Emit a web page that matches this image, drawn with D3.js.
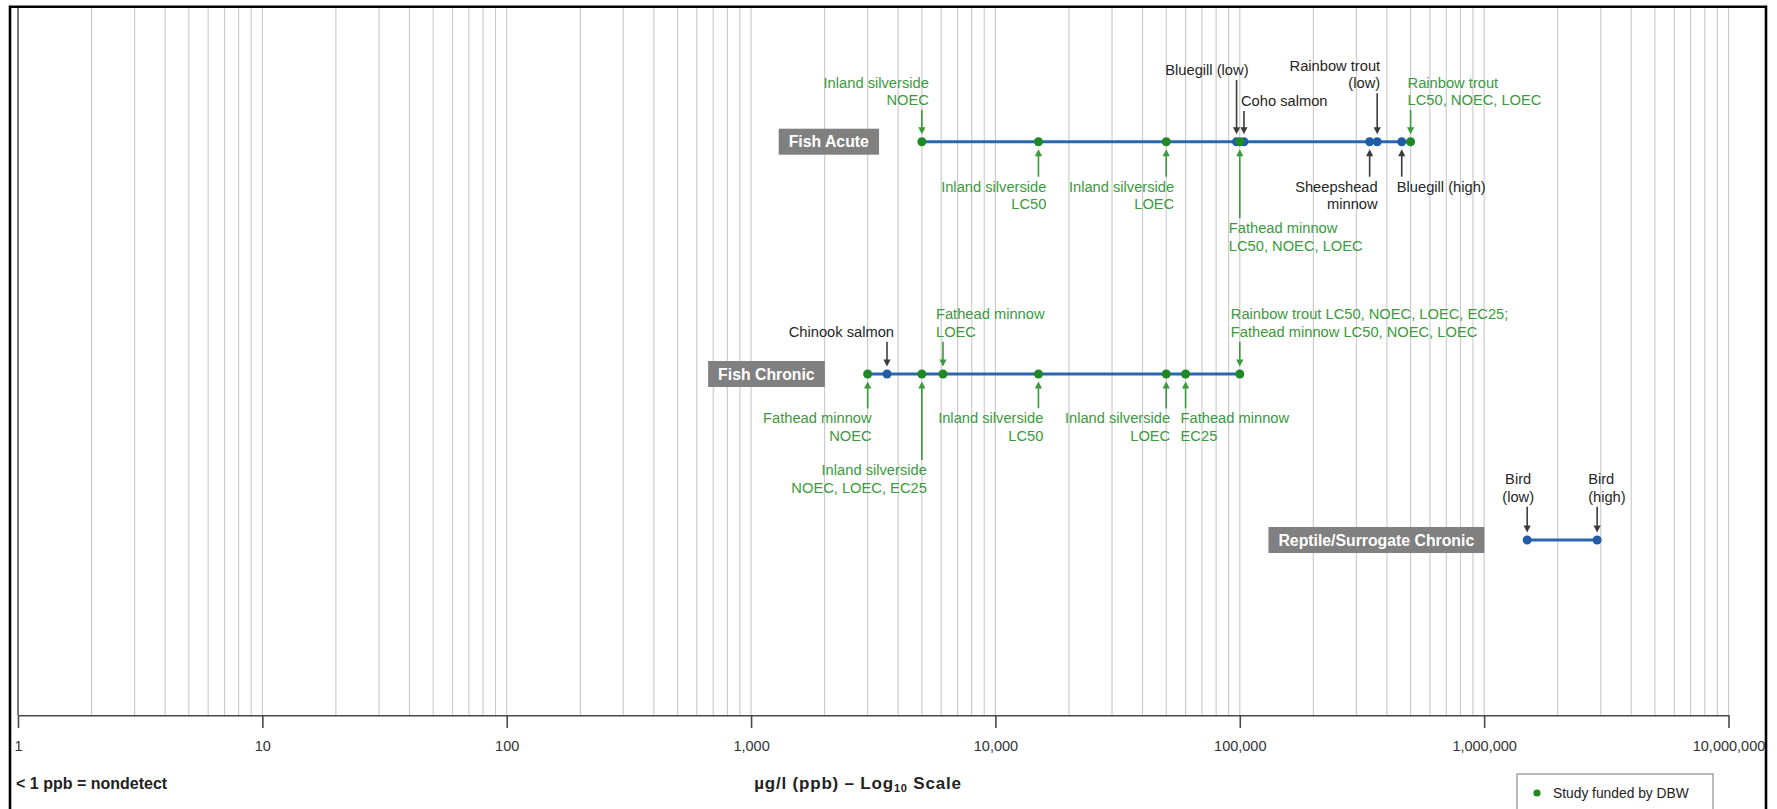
<!DOCTYPE html>
<html><head><meta charset="utf-8">
<script src="https://cdn.jsdelivr.net/npm/d3@7"></script>
<style>
html,body{margin:0;padding:0;background:#fff;}
svg{display:block;font-family:"Liberation Sans",Arial,sans-serif;}
</style></head>
<body><svg id="chart" width="1777" height="809"></svg>
<script>
// ---------- DATA ----------
const rowNames = ["Fish Acute", "Fish Chronic", "Reptile/Surrogate Chronic"];
const tickValues = [1, 10, 100, 1000, 10000, 100000, 1000000, 10000000];

const fishAcuteValues = [5000, 15000, 50000, 97000, 104000, 340000, 365000, 460000, 100000, 500000];
const fishAcuteFunded = [true, true, true, false, false, false, false, false, true, true];

const fishChronicValues = [3600, 3000, 5000, 6100, 15000, 50000, 60000, 100000];
const fishChronicFunded = [false, true, true, true, true, true, true, true];

const reptileValues = [1500000, 2900000];
const reptileFunded = [false, false];

const fishAcuteNotes = [
  {v: 5000,   lines: ["Inland silverside", "NOEC"], dbw: true},
  {v: 15000,  lines: ["Inland silverside", "LC50"], dbw: true},
  {v: 50000,  lines: ["Inland silverside", "LOEC"], dbw: true},
  {v: 97000,  lines: ["Bluegill (low)"], dbw: false},
  {v: 104000, lines: ["Coho salmon"], dbw: false},
  {v: 100000, lines: ["Fathead minnow", "LC50, NOEC, LOEC"], dbw: true},
  {v: 340000, lines: ["Sheepshead", "minnow"], dbw: false},
  {v: 365000, lines: ["Rainbow trout", "(low)"], dbw: false},
  {v: 460000, lines: ["Bluegill (high)"], dbw: false},
  {v: 500000, lines: ["Rainbow trout", "LC50, NOEC, LOEC"], dbw: true}
];
const fishChronicNotes = [
  {v: 3000,   lines: ["Fathead minnow", "NOEC"], dbw: true},
  {v: 3600,   lines: ["Chinook salmon"], dbw: false},
  {v: 5000,   lines: ["Inland silverside", "NOEC, LOEC, EC25"], dbw: true},
  {v: 6100,   lines: ["Fathead minnow", "LOEC"], dbw: true},
  {v: 15000,  lines: ["Inland silverside", "LC50"], dbw: true},
  {v: 50000,  lines: ["Inland silverside", "LOEC"], dbw: true},
  {v: 60000,  lines: ["Fathead minnow", "EC25"], dbw: true},
  {v: 100000, lines: ["Rainbow trout LC50, NOEC, LOEC, EC25;", "Fathead minnow LC50, NOEC, LOEC"], dbw: true}
];
const reptileNotes = [
  {v: 1500000, lines: ["Bird", "(low)"], dbw: false},
  {v: 2900000, lines: ["Bird", "(high)"], dbw: false}
];
const legendLabel = "Study funded by DBW";

// ---------- LAYOUT (positions / styles) ----------
const fishAcuteLayout = [
  {side:"above", anchor:"end",   dx: 7,  gap: 41.7},
  {side:"below", anchor:"end",   dx: 8,  gap: 45},
  {side:"below", anchor:"end",   dx: 8,  gap: 45},
  {side:"above", anchor:"end",   dx: 12, gap: 71.7},
  {side:"above", anchor:"start", dx: -3, gap: 40.7},
  {side:"below", anchor:"start", dx: -11, gap: 86.3},
  {side:"below", anchor:"end",   dx: 8,  gap: 45},
  {side:"above", anchor:"end",   dx: 3,  gap: 58.4},
  {side:"below", anchor:"start", dx: -5, gap: 45},
  {side:"above", anchor:"start", dx: -3, gap: 41.7}
];
const fishChronicLayout = [
  {side:"below", anchor:"end",   dx: 4,  gap: 44.3},
  {side:"above", anchor:"end",   dx: 7,  gap: 42.3},
  {side:"below", anchor:"end",   dx: 5,  gap: 96},
  {side:"above", anchor:"start", dx: -7, gap: 42.3},
  {side:"below", anchor:"end",   dx: 5,  gap: 44.3},
  {side:"below", anchor:"end",   dx: 4,  gap: 44.3},
  {side:"below", anchor:"start", dx: -5, gap: 44.3},
  {side:"above", anchor:"start", dx: -9, gap: 42.3}
];
const reptileLayout = [
  {side:"above", anchor:"middle", dx: -9, gap: 43.3},
  {side:"above", anchor:"start",  dx: -9, gap: 43.3}
];

const W = 1777, H = 809;
const axisY = 715, plotTop = 8;
const rowY = [141.7, 374, 540];
const GREEN_TXT = "#3b9a3b", GREEN_DOT = "#1f8a25", BLUE = "#2a67ad", BLUE_DOT = "#1f5da6";
const BLACK_TXT = "#262626", BLACK_ARR = "#3c3c3c";
const LH = 17.5, FS = 14.7;

const svg = d3.select("#chart");
const x = d3.scaleLog().domain([1, 1e7]).range([18, 1728.5]);

svg.append("defs").append("clipPath").attr("id", "frameClip")
  .append("rect").attr("x", 0).attr("y", 0).attr("width", 1765).attr("height", H);

// gridlines
svg.append("g").selectAll("line").data(x.ticks()).join("line")
  .attr("x1", d => x(d)).attr("x2", d => x(d))
  .attr("y1", plotTop).attr("y2", axisY)
  .attr("stroke", (d) => d === 1 ? "#7a7a7a" : "#c9c9c9")
  .attr("stroke-width", d => d === 1 ? 2 : 1.1);

// axis
const axis = d3.axisBottom(x).tickValues(tickValues).tickFormat(d3.format(",")).tickSize(13).tickSizeOuter(0);
const ag = svg.append("g").attr("transform", `translate(0,${axisY})`).attr("clip-path", "url(#frameClip)").call(axis);
ag.select(".domain").attr("stroke", "#4a4a4a").attr("stroke-width", 2);
ag.selectAll(".tick line").attr("stroke", "#4a4a4a").attr("stroke-width", 1.6);
ag.selectAll(".tick text").attr("font-size", 14.5).attr("fill", "#333")
  .attr("font-family", "'Liberation Sans', Arial, sans-serif").attr("dy", "1.4em");

// frame (top, left, right)
svg.append("path").attr("d", `M10,${H+5} L10,6.7 L1766,6.7 L1766,${H+5}`)
  .attr("fill", "none").attr("stroke", "#000").attr("stroke-width", 2.6);

function arrow(g, xv, y1, y2, color) {
  const dir = y2 > y1 ? 1 : -1;
  const hl = 7, hw = 3.6;
  g.append("line").attr("x1", xv).attr("x2", xv).attr("y1", y1).attr("y2", y2 - dir * hl + dir)
    .attr("stroke", color).attr("stroke-width", 1.6);
  g.append("path").attr("d", `M${xv - hw},${y2 - dir * hl} L${xv + hw},${y2 - dir * hl} L${xv},${y2} Z`)
    .attr("fill", color);
}

const rows = [
  {values: fishAcuteValues, funded: fishAcuteFunded, notes: fishAcuteNotes, layout: fishAcuteLayout},
  {values: fishChronicValues, funded: fishChronicFunded, notes: fishChronicNotes, layout: fishChronicLayout},
  {values: reptileValues, funded: reptileFunded, notes: reptileNotes, layout: reptileLayout}
];

rows.forEach((r, i) => {
  const y = rowY[i];
  const g = svg.append("g");
  const [mn, mx] = d3.extent(r.values);
  const lg = g.append("g");
  const t = lg.append("text").text(rowNames[i]).attr("font-size", 15.8).attr("font-weight", "bold")
    .attr("fill", "#fff").attr("text-anchor", "end").attr("x", x(mn) - 43 - 10).attr("y", y + 5.6);
  const bb = t.node().getBBox();
  lg.insert("rect", "text").attr("x", bb.x - 10).attr("y", y - 13).attr("width", bb.width + 20).attr("height", 26)
    .attr("fill", "#808080");
  g.append("line").attr("x1", x(mn)).attr("x2", x(mx)).attr("y1", y).attr("y2", y)
    .attr("stroke", BLUE).attr("stroke-width", 3);
  r.notes.forEach((n, j) => {
    const L = r.layout[j];
    const col = n.dbw ? GREEN_TXT : BLACK_TXT;
    const acol = n.dbw ? GREEN_TXT : BLACK_ARR;
    const xv = x(n.v);
    const nl = n.lines.length;
    const firstY = L.side === "above" ? y - L.gap - (nl - 1) * LH : y + L.gap;
    const tx = g.append("text").attr("font-size", FS).attr("fill", col).attr("text-anchor", L.anchor);
    n.lines.forEach((s, k) => {
      tx.append("tspan").attr("x", xv + L.dx).attr("y", firstY + k * LH + 5).text(s);
    });
    if (L.side === "above") arrow(g, xv, y - L.gap + 10, y - 7.5, acol);
    else arrow(g, xv, y + L.gap - 10, y + 7.5, acol);
  });
  const pts = r.values.map((v, k) => ({v, f: r.funded[k]}));
  g.selectAll("circle.b").data(pts.filter(p => !p.f)).join("circle")
    .attr("cx", d => x(d.v)).attr("cy", y).attr("r", 4.5).attr("fill", BLUE_DOT);
  g.selectAll("circle.gr").data(pts.filter(p => p.f)).join("circle")
    .attr("cx", d => x(d.v)).attr("cy", y).attr("r", 4.5).attr("fill", GREEN_DOT);
});

// bottom texts
svg.append("text").attr("x", 16).attr("y", 789).attr("font-size", 16).attr("font-weight", "bold")
  .attr("fill", "#222").text("< 1 ppb = nondetect");
const tt = svg.append("text").attr("x", 858).attr("y", 789).attr("font-size", 17).attr("font-weight", "bold")
  .attr("letter-spacing", 0.8).attr("fill", "#222").attr("text-anchor", "middle");
tt.append("tspan").text("µg/l (ppb) – Log");
tt.append("tspan").attr("font-size", 11).attr("dy", 3).text("10");
tt.append("tspan").attr("dy", -3).text(" Scale");

// legend
const leg = svg.append("g");
leg.append("rect").attr("x", 1517).attr("y", 774).attr("width", 196).attr("height", 40)
  .attr("fill", "#fff").attr("stroke", "#777").attr("stroke-width", 1);
leg.append("circle").attr("cx", 1537).attr("cy", 793).attr("r", 3.6).attr("fill", GREEN_DOT);
leg.append("text").attr("x", 1553).attr("y", 798).attr("font-size", 13.8).attr("fill", "#222").text(legendLabel);
</script></body></html>
